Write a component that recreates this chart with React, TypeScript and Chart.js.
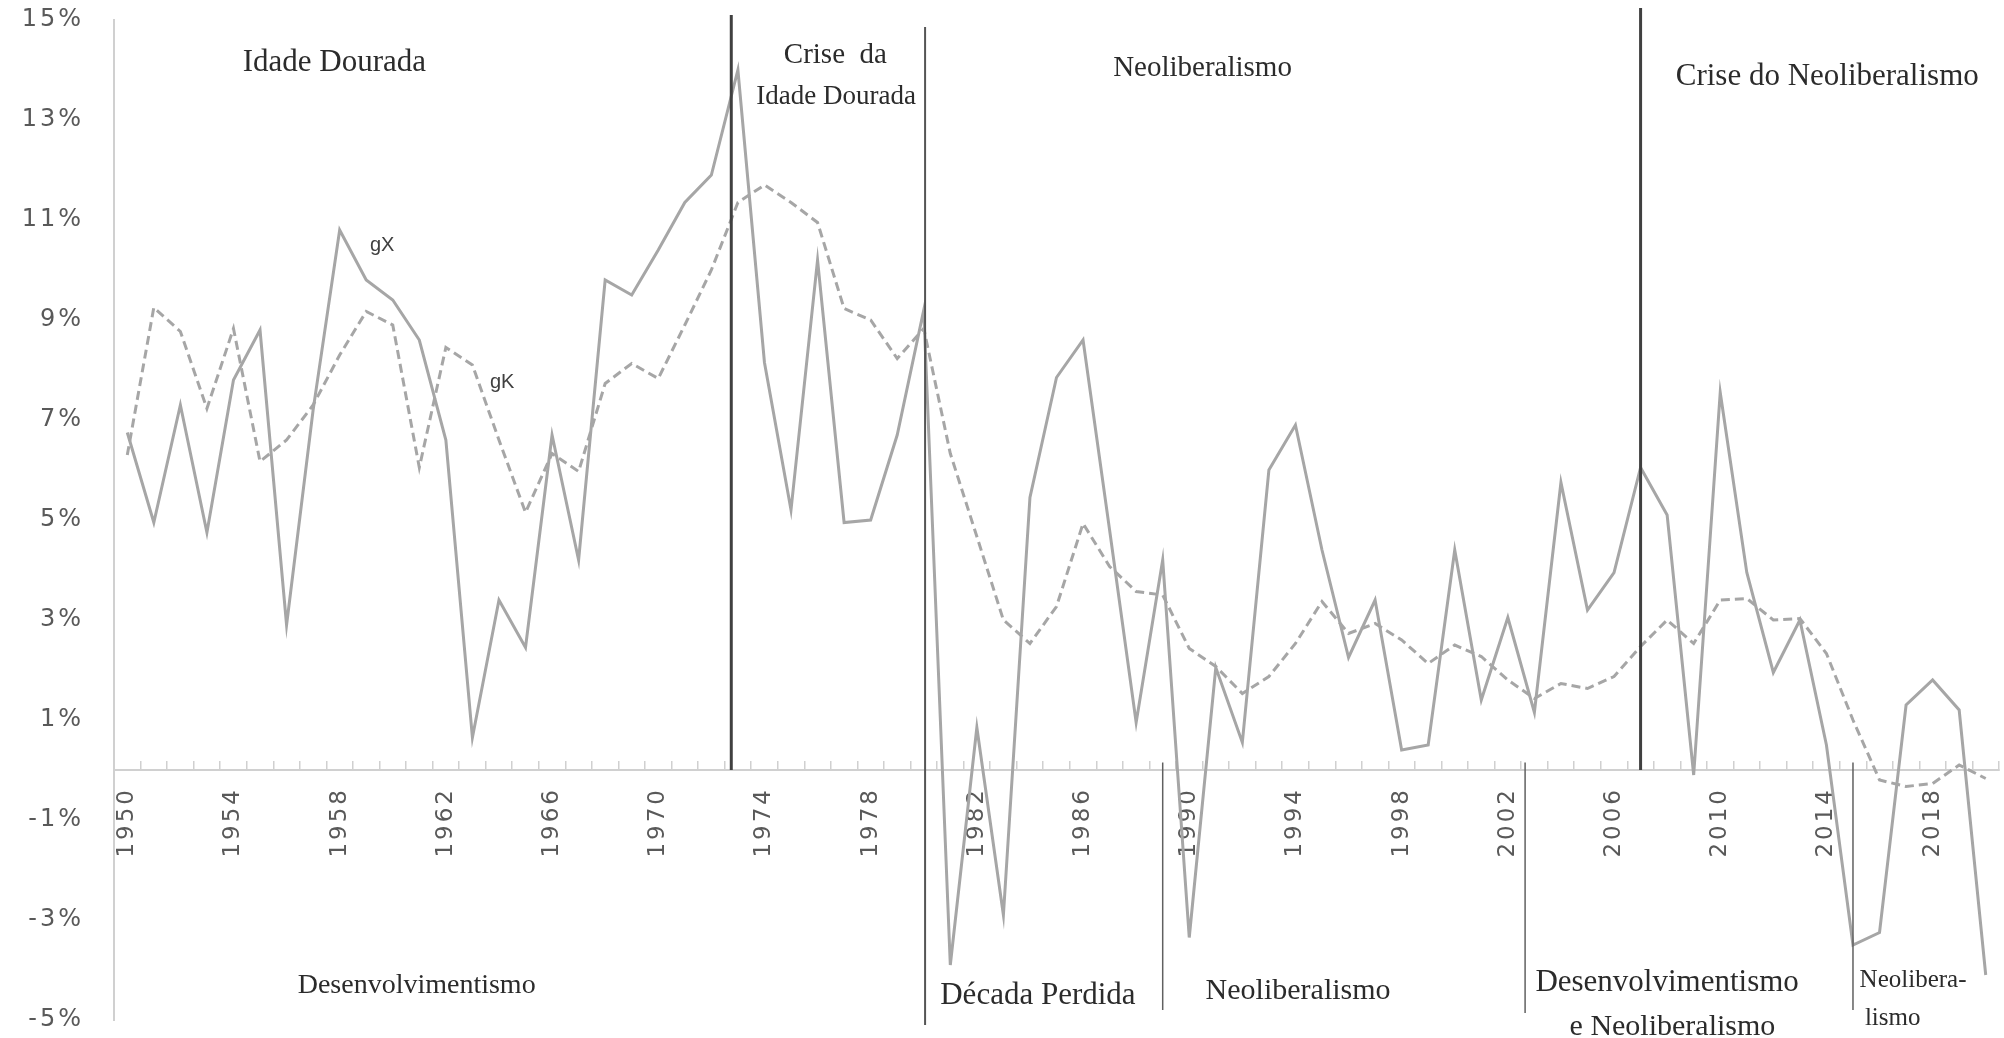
import React, { useEffect, useRef } from "react";
import { Chart, registerables } from "chart.js";

Chart.register(...registerables);

// ---------- data ----------
const years = [
  "1950","1951","1952","1953","1954","1955","1956","1957","1958","1959",
  "1960","1961","1962","1963","1964","1965","1966","1967","1968","1969",
  "1970","1971","1972","1973","1974","1975","1976","1977","1978","1979",
  "1980","1981","1982","1983","1984","1985","1986","1987","1988","1989",
  "1990","1991","1992","1993","1994","1995","1996","1997","1998","1999",
  "2000","2001","2002","2003","2004","2005","2006","2007","2008","2009",
  "2010","2011","2012","2013","2014","2015","2016","2017","2018","2019",
  "2020",
];

const tickYears = [
  "1950","1954","1958","1962","1966","1970","1974","1978","1982",
  "1986","1990","1994","1998","2002","2006","2010","2014","2018",
];

// gX (solid)
const gX = [
  6.75, 4.95, 7.3, 4.75, 7.8, 8.8, 2.9, 7.2, 10.8, 9.8,
  9.4, 8.6, 6.6, 0.65, 3.4, 2.45, 6.7, 4.2, 9.8, 9.5,
  10.4, 11.35, 11.9, 14.0, 8.15, 5.2, 10.2, 4.95, 5.0, 6.7,
  9.2, -3.9, 0.85, -2.9, 5.45, 7.85, 8.6, 4.8, 0.95, 4.2,
  -3.35, 2.05, 0.55, 6.0, 6.9, 4.4, 2.25, 3.4, 0.4, 0.5,
  4.4, 1.4, 3.05, 1.15, 5.75, 3.2, 3.95, 6.05, 5.1, -0.1,
  7.55, 3.95, 1.95, 3.0, 0.5, -3.5, -3.25, 1.3, 1.8, 1.2,
  -4.1,
];

// gK (dashed)
const gK = [
  6.3, 9.25, 8.77, 7.23, 8.83, 6.17, 6.6, 7.3, 8.3, 9.17,
  8.9, 6.05, 8.45, 8.1, 6.6, 5.15, 6.33, 5.97, 7.73, 8.13,
  7.83, 8.9, 10.0, 11.35, 11.7, 11.35, 10.95, 9.23, 9.0, 8.23,
  8.83, 6.33, 4.67, 3.0, 2.53, 3.27, 4.93, 4.07, 3.57, 3.5,
  2.43, 2.07, 1.53, 1.87, 2.53, 3.37, 2.73, 2.93, 2.6, 2.13,
  2.5, 2.27, 1.8, 1.43, 1.73, 1.63, 1.87, 2.47, 3.0, 2.53,
  3.4, 3.43, 3.0, 3.03, 2.33, 1.0, -0.2, -0.33, -0.27, 0.1,
  -0.17,
];

const yTicks = [-5, -3, -1, 1, 3, 5, 7, 9, 11, 13, 15];

// period dividers (year, top value, bottom value)
const dividerYear = [1972.75, 1980.05, 1989.0, 2002.65, 2007.0, 2015.0];
const dividerTop = [15.1, 14.86, 0.15, 0.15, 15.24, 0.15];
const dividerBottom = [0, -5.1, -4.8, -4.86, 0, -4.8];

// period labels (text, year, value)
const periodText = [
  "Idade Dourada", "Crise  da", "Idade Dourada", "Neoliberalismo",
  "Crise do Neoliberalismo", "Desenvolvimentismo", "Década Perdida",
  "Neoliberalismo", "Desenvolvimentismo", "e Neoliberalismo",
  "Neolibera-", "lismo",
];
const periodYear = [
  1957.8, 1976.67, 1976.7, 1990.5,
  2014.03, 1960.9, 1984.3,
  1994.1, 2008.0, 2008.2,
  2015.25, 2015.45,
];
const periodValue = [
  14.14, 14.3, 13.46, 14.04,
  13.86, -4.32, -4.52,
  -4.42, -4.26, -5.14,
  -4.2, -4.96,
];

const seriesLabelText = ["gX", "gK"];
const seriesLabelYear = [1959.6, 1964.12];
const seriesLabelValue = [10.5, 7.76];

// ---------- styles ----------
const LINE_COLOR = "#a6a6a6";
const AXIS_COLOR = "#d0d0d0";
const TICK_TEXT = "#595959";
const NOTE_COLOR = "#2b2b2b";
const dividerStyle = [
  { w: 3, c: "#404040" },
  { w: 2, c: "#555555" },
  { w: 1.5, c: "#606060" },
  { w: 1.5, c: "#606060" },
  { w: 3, c: "#404040" },
  { w: 1.5, c: "#606060" },
];
const periodFont = [31, 29, 27, 29, 31, 28, 31, 30, 31, 30, 25, 25];
const periodAlign: CanvasTextAlign[] = [
  "center", "center", "center", "center", "center", "center", "center",
  "center", "center", "center", "left", "left",
];

const spacingPlugin = {
  id: "labelSpacing",
  beforeDraw(chart: any) {
    chart.ctx.letterSpacing = "3px";
  },
  beforeDatasetsDraw(chart: any) {
    chart.ctx.letterSpacing = "0px";
  },
};

const periodsPlugin = {
  id: "periods",
  afterDatasetsDraw(chart: any) {
    const { ctx, scales } = chart;
    const xs = scales.x;
    const ys = scales.y;
    const xOf = (yr: number) => xs.getPixelForValue(yr - 1950);
    ctx.save();
    ctx.letterSpacing = "0px";
    // dividers
    dividerYear.forEach((yr, i) => {
      const x = xOf(yr);
      ctx.beginPath();
      ctx.strokeStyle = dividerStyle[i].c;
      ctx.lineWidth = dividerStyle[i].w;
      ctx.moveTo(x, ys.getPixelForValue(dividerTop[i]));
      ctx.lineTo(x, ys.getPixelForValue(dividerBottom[i]));
      ctx.stroke();
    });
    // period labels
    ctx.fillStyle = NOTE_COLOR;
    ctx.textBaseline = "middle";
    periodText.forEach((t, i) => {
      ctx.font = `${periodFont[i]}px "Liberation Serif", "Times New Roman", serif`;
      ctx.textAlign = periodAlign[i];
      ctx.fillText(t, xOf(periodYear[i]), ys.getPixelForValue(periodValue[i]));
    });
    // series labels
    ctx.fillStyle = "#404040";
    ctx.font = `20px "Liberation Sans", Arial, sans-serif`;
    ctx.textAlign = "center";
    seriesLabelText.forEach((t, i) => {
      ctx.fillText(t, xOf(seriesLabelYear[i]), ys.getPixelForValue(seriesLabelValue[i]));
    });
    ctx.restore();
  },
};

export default function App() {
  const ref = useRef<HTMLCanvasElement | null>(null);

  useEffect(() => {
    if (!ref.current) return;
    const chart = new Chart(ref.current, {
      type: "line",
      data: {
        labels: years,
        datasets: [
          {
            label: "gX",
            data: gX,
            borderColor: LINE_COLOR,
            borderWidth: 3,
            pointRadius: 0,
            tension: 0,
            fill: false,
          },
          {
            label: "gK",
            data: gK,
            borderColor: LINE_COLOR,
            borderWidth: 3,
            borderDash: [9, 5],
            pointRadius: 0,
            tension: 0,
            fill: false,
          },
        ],
      },
      options: {
        responsive: false,
        animation: false,
        events: [],
        layout: { padding: { left: 0, right: 5, top: 20, bottom: 18 } },
        plugins: {
          legend: { display: false },
          tooltip: { enabled: false },
          title: { display: false },
        },
        scales: {
          x: {
            type: "category",
            offset: true,
            position: { y: 0 } as any,
            grid: {
              display: true,
              drawOnChartArea: false,
              drawTicks: true,
              tickLength: -10,
              offset: true,
              color: AXIS_COLOR,
              lineWidth: 1.5,
            },
            border: { display: true, color: AXIS_COLOR, width: 2 },
            ticks: {
              autoSkip: false,
              minRotation: 90,
              maxRotation: 90,
              padding: 27,
              color: TICK_TEXT,
              font: { family: "DejaVu Sans", size: 23 },
              callback: (_v: any, idx: number) =>
                tickYears.includes(years[idx]) ? years[idx] : "",
            },
            afterFit: (s: any) => {
              s.height = 0;
              s.paddingLeft = 0;
              s.paddingRight = 0;
            },
          },
          y: {
            type: "linear",
            position: "left",
            min: yTicks[0],
            max: yTicks[yTicks.length - 1],
            grid: { display: false, drawTicks: false },
            border: { display: true, color: AXIS_COLOR, width: 2 },
            ticks: {
              stepSize: 2,
              padding: 30,
              color: TICK_TEXT,
              font: { family: "DejaVu Sans", size: 24 },
              callback: (v: any) => `${v}%`,
            },
            afterFit: (s: any) => {
              s.width = 114;
              s.paddingTop = 0;
              s.paddingBottom = 0;
            },
          },
        },
      },
      plugins: [spacingPlugin, periodsPlugin],
    });
    return () => chart.destroy();
  }, []);

  return (
    <div
      style={{
        position: "fixed",
        left: 0,
        top: 0,
        width: 2004,
        height: 1038,
        background: "#ffffff",
      }}
    >
      <canvas
        ref={ref}
        width={2004}
        height={1038}
        style={{ display: "block", width: 2004, height: 1038 }}
      />
    </div>
  );
}
